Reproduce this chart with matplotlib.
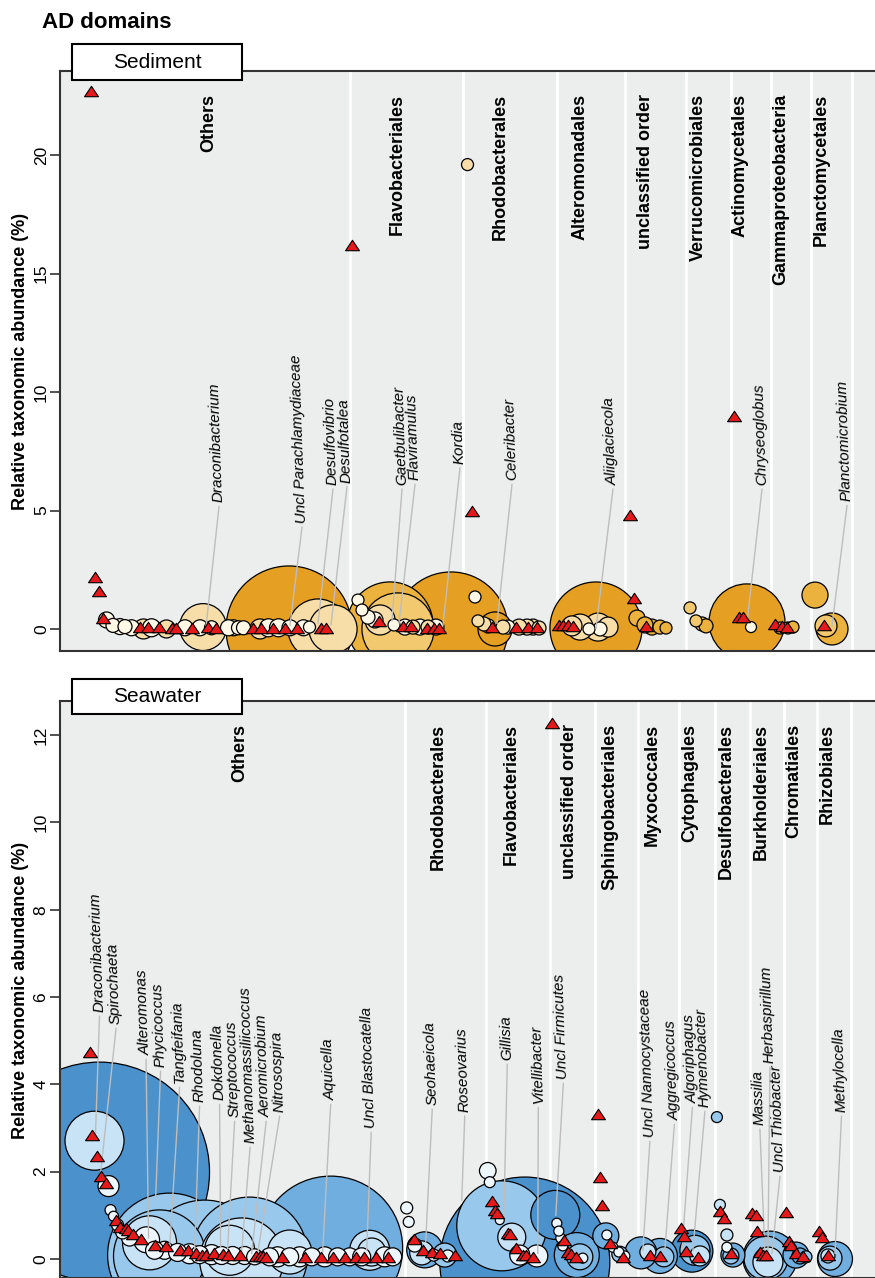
import numpy as np
import matplotlib
matplotlib.use("Agg")
import matplotlib.pyplot as plt
from matplotlib.patches import Rectangle
from matplotlib.path import Path
from matplotlib.transforms import offset_copy, blended_transform_factory

plt.rcParams['font.family'] = ['Liberation Sans', 'DejaVu Sans']

# ---------------- Sediment ----------------
sed_orders = ["Others", "Flavobacteriales", "Rhodobacterales", "Alteromonadales",
              "unclassified order", "Verrucomicrobiales", "Actinomycetales",
              "Gammaproteobacteria", "Planctomycetales"]
sed_breaks = [58.0, 80.6, 99.3, 113.0, 125.1, 134.1, 142.1, 150.2, 158.3]

# red triangles: genus rank / relative abundance (%)
sed_tri_x = [6.2, 7.0, 7.8, 8.6, 16.0, 17.5, 19.8, 22.3, 23.2, 26.4, 29.6, 31.2,
             38.5, 40.1, 42.5, 44.9, 47.3, 52.2, 53.1, 58.4, 63.7, 68.5, 70.1, 73.3,
             74.7, 75.8, 82.3, 86.3, 91.1, 93.5, 95.3, 99.7, 100.5, 101.5, 102.5,
             113.9, 114.7, 117.1, 134.8, 135.7, 136.5, 142.9, 144.3, 145.3, 152.7]
sed_tri_y = [22.7, 2.2, 1.6, 0.45, 0.1, 0.1, 0.1, 0.05, 0.05, 0.05, 0.1, 0.05,
             0.05, 0.05, 0.05, 0.05, 0.05, 0.05, 0.05, 16.2, 0.35, 0.13, 0.13, 0.06,
             0.06, 0.06, 5.0, 0.08, 0.08, 0.08, 0.08, 0.15, 0.15, 0.15, 0.12,
             4.8, 1.3, 0.13, 9.0, 0.5, 0.5, 0.2, 0.12, 0.08, 0.17]

# bubbles: rank, abundance, bubble weight, taxonomic level (0 = order ... 4 = genus)
sed_bub_x = [45.8, 28.6, 51.6, 54.6, 9.3, 10.6, 12.0, 13.0, 14.3, 16.7, 18.3, 21.3,
             25.0, 28.0, 30.3, 33.7, 34.7, 35.7, 36.7, 40.0, 41.7, 43.7, 46.0, 48.7, 49.9,
             66.0, 67.6, 64.0, 59.6, 60.4, 61.6, 63.0, 66.8, 69.0, 70.6, 72.0, 73.6, 75.2,
             78.2, 83.0, 87.0, 83.6, 84.8, 85.6, 88.6, 89.6, 91.8, 93.4, 94.6, 95.8, 81.5,
             107.2, 102.4, 104.0, 107.6, 109.6, 105.8, 108.0,
             115.4, 117.0, 118.4, 120.0, 121.2,
             126.0, 127.2, 128.4, 129.2,
             137.4, 138.2,
             144.0, 145.6, 146.6,
             151.0, 154.4, 153.2]
sed_bub_y = [0, 0.08, 0, 0, 0.38, 0.15, 0.1, 0.1, 0.05, 0.0, 0.05, 0.0,
             0.05, 0.05, 0.05, 0.05, 0.05, 0.05, 0.05, 0.0, 0.05, 0.05, 0.05, 0.05, 0.08,
             0.17, 0, 0.38, 1.22, 0.8, 0.5, 0.38, 0.17, 0.08, 0.08, 0.08, 0.08, 0.08,
             0, 1.35, 0, 0.34, 0.21, 0.13, 0.08, 0.08, 0.08, 0.08, 0.08, 0.04, 19.6,
             0.04, 0.13, 0.08, 0.08, 0.08, 0, 0,
             0.46, 0.17, 0.08, 0.08, 0.04,
             0.89, 0.34, 0.21, 0.13,
             0.3, 0.08,
             0.04, 0.04, 0.08,
             1.43, 0, 0.13]
sed_bub_v = [39.7, 5.5, 9.0, 5.8, 0.64, 0.49, 0.64, 0.49, 0.64, 1.0, 0.81, 0.81,
             0.64, 0.64, 0.49, 0.64, 0.64, 0.49, 0.49, 1.0, 0.81, 0.81, 0.64, 0.64, 0.36,
             18.5, 13.0, 2.25, 0.36, 0.36, 0.49, 0.64, 0.36, 0.64, 0.49, 0.64, 0.49, 0.64,
             32.5, 0.36, 2.9, 0.36, 0.49, 0.49, 0.49, 0.49, 0.64, 0.64, 0.64, 0.49, 0.36,
             21.2, 1.0, 1.69, 1.96, 1.0, 0.36, 0.49,
             0.64, 0.64, 0.64, 0.49, 0.36,
             0.36, 0.36, 0.49, 0.49,
             14.4, 0.3,
             0.36, 0.36, 0.36,
             1.69, 2.56, 1.21]
sed_bub_lvl = [0, 3, 3, 3, 4, 4, 4, 4, 4, 3, 4, 3,
               4, 4, 4, 4, 4, 4, 4, 3, 4, 4, 4, 4, 4,
               1, 2, 3, 4, 4, 4, 4, 4, 4, 3, 4, 3, 4,
               0, 4, 0, 3, 3, 4, 3, 4, 3, 3, 3, 3, 3,
               0, 3, 3, 3, 3, 4, 4,
               1, 1, 1, 1, 1,
               2, 2, 2, 1,
               0, 4,
               1, 1, 1,
               1, 1, 2]

sed_genera = ["Draconibacterium", "Uncl Parachlamydiaceae", "Desulfovibrio", "Desulfotalea",
              "Gaetbulibacter", "Flaviramulus", "Kordia", "Celeribacter", "Aliiglaciecola",
              "Chryseoglobus", "Planctomicrobium"]
sed_gen_x = [29.2, 46.0, 51.6, 54.2, 66.4, 67.8, 76.6, 87.4, 107.2, 137.4, 154.4]
sed_gen_y = [0.1, 0.17, 0.24, 0.17, 0.35, 0.24, 0.17, 0.24, 0.03, 0.25, 0.13]

# ---------------- Seawater ----------------
sea_orders = ["Others", "Rhodobacterales", "Flavobacteriales", "unclassified order",
              "Sphingobacteriales", "Myxococcales", "Cytophagales", "Desulfobacterales",
              "Burkholderiales", "Chromatiales", "Rhizobiales"]
sea_breaks = [69.0, 85.2, 98.1, 107.1, 115.7, 123.9, 131.0, 138.1, 144.9, 151.5, 158.3]

sea_tri_x = [6.0, 6.5, 7.5, 8.3, 9.3, 11.3, 12.0, 13.3, 13.6, 14.7, 16.3, 19.0, 21.3,
             24.1, 25.7, 27.3, 28.5, 29.3, 30.8, 32.7, 33.7, 36.0, 39.3, 40.0, 40.7, 41.3,
             44.5, 49.0, 52.3, 54.7, 57.0, 59.3, 60.8, 63.2, 65.7,
             70.8, 72.7, 74.5, 76.1, 79.0,
             86.5, 87.0, 87.5, 89.7, 90.0, 91.2, 92.7, 93.3, 94.7,
             98.4, 100.9, 101.7, 102.3, 103.3,
             107.7, 108.0, 108.5, 110.0, 112.7,
             118.0, 120.0,
             124.3, 124.8, 125.2, 127.7,
             132.1, 132.8, 134.3,
             138.5, 139.2, 139.5, 140.0, 140.7, 141.3,
             145.2, 145.9, 146.3, 147.3, 148.7,
             151.9, 152.5, 153.7]
sea_tri_y = [4.74, 2.83, 2.35, 1.9, 1.75, 0.9, 0.73, 0.71, 0.66, 0.57, 0.45, 0.31, 0.3,
             0.2, 0.2, 0.14, 0.1, 0.1, 0.14, 0.11, 0.09, 0.09, 0.07, 0.07, 0.07, 0.05,
             0.05, 0.05, 0.05, 0.05, 0.05, 0.05, 0.05, 0.05, 0.05,
             0.45, 0.2, 0.16, 0.13, 0.09,
             1.33, 1.12, 1.05, 0.59, 0.57, 0.26, 0.09, 0.09, 0.05,
             12.27, 0.43, 0.16, 0.12, 0.05,
             3.32, 1.88, 1.24, 0.36, 0.05,
             0.09, 0.07,
             0.72, 0.53, 0.19, 0.05,
             1.1, 0.95, 0.13,
             1.05, 1.0, 0.65, 0.16, 0.1, 0.09,
             1.08, 0.41, 0.32, 0.13, 0.07,
             0.65, 0.51, 0.09]

sea_bub_x = [8.0, 7.0, 9.8, 10.2, 10.8, 11.6, 12.6, 14.0,
             22.0, 29.0, 18.0, 17.4, 38.0, 36.4, 54.2, 20.0, 34.0, 46.0,
             19.0, 21.0, 23.6, 26.0, 28.0, 30.4, 32.4, 34.6, 37.0, 39.0, 42.0, 43.6,
             46.0, 48.0, 50.4, 53.0, 55.6, 58.0, 60.4, 62.0, 62.4, 65.0, 66.6,
             69.4, 69.8, 73.0, 72.4, 77.0, 74.8, 77.6, 71.0,
             93.0, 88.4, 99.1, 90.4, 85.6, 86.0, 88.0, 92.0, 95.4, 99.4, 99.8, 100.2, 100.6,
             103.4, 104.0, 104.6,
             109.2, 109.4, 110.6, 111.8, 113.0, 112.0,
             116.2, 120.0, 117.6, 120.8,
             126.4, 127.0, 128.0, 131.4,
             132.0, 133.4, 133.4, 134.6, 134.2,
             142.0, 141.2, 141.6, 147.2,
             148.0, 149.2,
             155.0, 154.0, 153.6]
sea_bub_y = [1.99, 2.71, 1.67, 1.12, 0.98, 0.78, 0.62, 0.48,
             0.09, -0.07, 0.37, 0.44, 0.09, -0.02, 0.25, 0.07, 0.2, 0.16,
             0.2, 0.2, 0.15, 0.12, 0.1, 0.1, 0.08, 0.08, 0.08, 0.05, 0.05, 0.05,
             0.05, 0.05, 0.05, 0.05, 0.05, 0.05, 0.05, 0.2, 0.16, 0.05, 0.05,
             1.17, 0.85, 0.21, 0.14, 0.09, 0.09, 0.07, 0.32,
             -0.07, 0.76, 1.01, 0.5, 2.02, 1.76, 0.89, 0.09, 0.07, 0.82, 0.64, 0.48, 0.3,
             0.09, 0.05, 0.02,
             0.53, 0.55, 0.27, 0.16, 0.07, 0.11,
             0.14, 0.07, 0.16, 0.05,
             0.18, 0.2, 0.07, 3.25,
             1.24, 0.55, 0.27, 0.09, 0.07,
             0.02, 0.02, -0.07, 0.09,
             0.07, 0.05,
             0.0, 0.02, 0.07]
sea_bub_v = [121, 8.7, 1.1, 0.3, 0.25, 0.36, 0.49, 0.64,
             38.4, 38.4, 7.3, 1.69, 33.6, 17.6, 51.8, 21.2, 6.25, 4.84,
             0.81, 0.81, 0.81, 1.0, 0.81, 1.0, 0.81, 0.81, 0.81, 0.64, 0.81, 1.0,
             0.81, 1.0, 0.81, 1.0, 0.81, 0.81, 0.81, 4.0, 1.96, 1.0, 0.81,
             0.36, 0.3, 3.24, 1.44, 1.44, 0.36, 0.36, 0.49,
             72.3, 20.25, 6.0, 1.96, 0.69, 0.3, 0.2, 1.0, 1.21, 0.25, 0.25, 0.25, 0.25,
             5.06, 1.69, 0.25,
             1.69, 0.25, 0.25, 0.25, 0.25, 0.64,
             2.56, 3.06, 0.64, 1.0,
             4.41, 2.25, 1.0, 0.3,
             0.3, 0.36, 0.25, 1.44, 0.64,
             7.29, 4.84, 2.25, 1.69,
             0.64, 0.36,
             3.06, 1.44, 0.49]
sea_bub_lvl = [0, 3, 4, 4, 4, 4, 4, 4,
               2, 2, 3, 4, 2, 3, 1, 2, 3, 3,
               4, 4, 4, 4, 4, 4, 4, 4, 4, 4, 4, 4,
               4, 4, 4, 4, 4, 4, 4, 3, 3, 4, 4,
               4, 4, 1, 3, 2, 4, 4, 4,
               0, 2, 0, 3, 4, 4, 4, 4, 4, 4, 4, 4, 4,
               1, 2, 4,
               1, 4, 4, 4, 4, 2,
               1, 1, 3, 2,
               0, 2, 3, 2,
               3, 3, 4, 1, 2,
               1, 2, 3, 1,
               1, 2,
               1, 2, 3]

sea_genera = ["Draconibacterium", "Spirochaeta", "Alteromonas", "Phycicoccus", "Tangfeifania",
              "Rhodoluna", "Dokdonella", "Streptococcus", "Methanomassiliicoccus",
              "Aeromicrobium", "Nitrosospira", "Aquicella", "Uncl Blastocatella",
              "Seohaeicola", "Roseovarius", "Gillisia", "Vitellibacter", "Uncl Firmicutes",
              "Uncl Nannocystaceae", "Aggregicoccus", "Algoriphagus", "Hymenobacter",
              "Massilia", "Herbaspirillum", "Uncl Thiobacter", "Methylocella"]
sea_gen_x = [7.2, 8.2, 17.8, 19.2, 22.0, 27.0, 32.2, 33.6, 36.4, 38.4, 39.6, 52.6, 61.4,
             73.2, 80.4, 88.8, 95.6, 99.2, 116.6, 121.0, 124.4, 126.6, 141.0, 141.6, 142.4, 155.0]
sea_gen_y = [2.88, 1.96, 0.48, 1.35, 0.25, 0.17, 0.28, 0.24, 0.17, 0.13, 0.13, 0.17, 0.2,
             0.4, 1.35, 0.93, 0.13, 1.0, 0.2, 0.2, 0.2, 0.2, 0.13, 0.13, 0.13, 0.13]

# ---------------- layout ----------------
sed_order_pos = [29.8, 67.4, 88.0, 104.1, 117.1, 127.6, 136.1, 144.2, 152.2]
sea_order_pos = [36.0, 75.8, 90.3, 102.0, 110.1, 118.5, 126.0, 133.2, 140.2, 146.8, 153.5]
sed_lab_x = [31.8, 48.4, 54.6, 57.4, 68.4, 71.0, 80.0, 90.4, 110.6, 140.4, 157.4]
sed_lab_y = [5.16, 4.3, 5.9, 6.0, 5.9, 6.1, 6.8, 6.1, 5.9, 5.9, 5.2]
sea_lab_x = [8.0, 11.3, 17.3, 20.2, 24.0, 28.0, 32.0, 35.0, 38.1, 41.3, 44.0, 54.2, 62.3,
             74.5, 81.0, 89.5, 95.7, 100.7, 118.0, 122.9, 126.5, 129.0, 140.0, 142.0, 144.0, 156.3]
sea_lab_y = [5.56, 5.28, 4.57, 4.3, 3.93, 3.5, 3.54, 3.15, 2.56, 3.15, 3.27, 3.54, 2.9,
             3.43, 3.27, 4.46, 3.47, 4.02, 2.69, 3.08, 3.47, 3.38, 2.97, 4.39, 1.89, 3.27]

sed_pal = ['#E5A023', '#EBB23E', '#F2C96F', '#F7DEA8', '#FFF8E6']
sea_pal = ['#4B92CD', '#70AEDF', '#98C8EC', '#C9E3F6', '#EEF6FD']

DPI = 100
fig = plt.figure(figsize=(8.75, 12.78), dpi=DPI)

tri = Path([(0, 0.75), (-1, -0.75), (1, -0.75), (0, 0.75)],
           [Path.MOVETO, Path.LINETO, Path.LINETO, Path.CLOSEPOLY])


def draw_panel(ax, breaks, orders, order_pos, tri_x, tri_y, bx, by, bv, blvl, pal,
               genera, gx, gy, lx, ly, ylim, yticks):
    ax.set_facecolor('#ECEDED')
    ax.set_xlim(0, 163)
    ax.set_ylim(*ylim)
    for b in breaks:
        ax.axvline(b, color='white', lw=2, zorder=1)

    # biggest bubbles first so the small ones stay visible
    idx = np.argsort(bv)[::-1]
    bx, by, bv = np.asarray(bx)[idx], np.asarray(by)[idx], np.asarray(bv)[idx]
    cols = [pal[blvl[i]] for i in idx]
    r_px = 10 * np.sqrt(bv)
    sizes = (2 * r_px * 72 / DPI) ** 2
    ax.scatter(bx, by, s=sizes, c=cols, edgecolors='black', linewidths=0.9, zorder=3)

    txt_tr = offset_copy(ax.transData, fig=fig, y=3, units='points')
    for name, x0, y0, x1, y1 in zip(genera, gx, gy, lx, ly):
        ax.plot([x0, x1], [y0, y1], color='#BDBDBD', lw=1, zorder=4)
        ax.text(x1, y1, name, transform=txt_tr, rotation=92, rotation_mode='anchor',
                ha='left', va='center', style='italic', fontsize=11, zorder=6)

    ax.plot(tri_x, tri_y, ls='none', marker=tri, ms=10, mfc='#E3191C', mec='black',
            mew=0.8, zorder=5)

    btr = blended_transform_factory(ax.transData, ax.transAxes)
    for name, x in zip(orders, order_pos):
        ax.text(x, 0.961, name, transform=btr, rotation=90, rotation_mode='anchor',
                ha='right', va='center', fontweight='bold', fontsize=13, zorder=6)

    ax.set_xticks([])
    ax.set_yticks(yticks)
    ax.set_yticklabels([str(t) for t in yticks])
    ax.tick_params(axis='y', length=7, width=1.2, pad=1, labelsize=12.5,
                   labelrotation=90, color='#333333')
    for lab in ax.get_yticklabels():
        lab.set_va('center')
    ax.spines['right'].set_visible(False)
    for side in ('left', 'top', 'bottom'):
        ax.spines[side].set_linewidth(1.5)
        ax.spines[side].set_color('#333333')
        ax.spines[side].set_zorder(10)


W, H = 875.0, 1278.0
ax1 = fig.add_axes([60 / W, 1 - 651 / H, 815 / W, 580 / H])
draw_panel(ax1, sed_breaks, sed_orders, sed_order_pos, sed_tri_x, sed_tri_y,
           sed_bub_x, sed_bub_y, sed_bub_v, sed_bub_lvl, sed_pal,
           sed_genera, sed_gen_x, sed_gen_y, sed_lab_x, sed_lab_y,
           (-0.93, 23.55), [0, 5, 10, 15, 20])

ax2 = fig.add_axes([59.5 / W, 0, 815.5 / W, 577 / H])
draw_panel(ax2, sea_breaks, sea_orders, sea_order_pos, sea_tri_x, sea_tri_y,
           sea_bub_x, sea_bub_y, sea_bub_v, sea_bub_lvl, sea_pal,
           sea_genera, sea_gen_x, sea_gen_y, sea_lab_x, sea_lab_y,
           (-0.435, 12.78), [0, 2, 4, 6, 8, 10, 12])

ylab = "Relative taxonomic abundance (%)"
fig.text(21 / W, 1 - 361 / H, ylab, rotation=90, ha='center', va='center',
         fontweight='bold', fontsize=13)
fig.text(21 / W, 1 - 990 / H, ylab, rotation=90, ha='center', va='center',
         fontweight='bold', fontsize=13)

fig.text(42 / W, 1 - 22 / H, "AD domains", fontweight='bold', fontsize=16,
         ha='left', va='center')

for name, top, bot in [("Sediment", 44, 80), ("Seawater", 679, 714)]:
    fig.add_artist(Rectangle((72 / W, 1 - bot / H), 170 / W, (bot - top) / H,
                             transform=fig.transFigure, facecolor='white',
                             edgecolor='black', lw=1.5, zorder=20))
    fig.text(157 / W, 1 - (top + bot) / 2 / H, name, ha='center', va='center',
             fontsize=15, zorder=21)

fig.savefig("out.png", dpi=DPI)
